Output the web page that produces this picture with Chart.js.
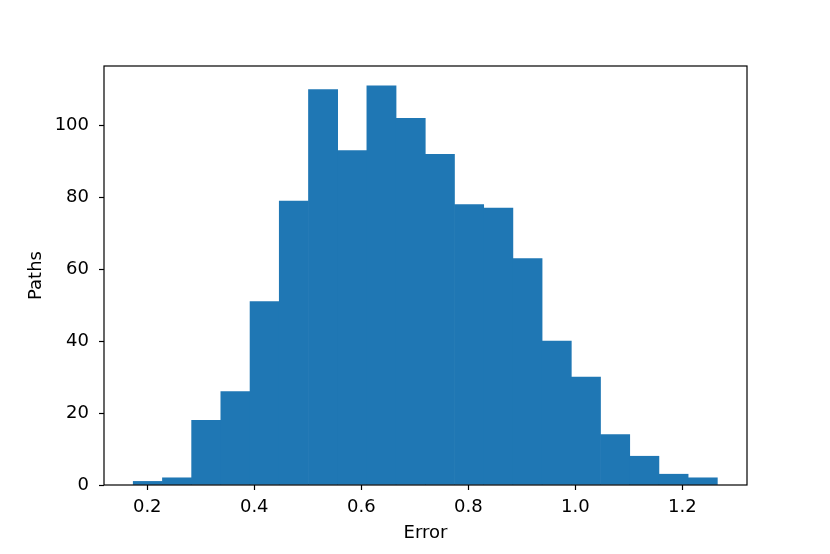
<!DOCTYPE html>
<html lang="en">
<head>
<meta charset="UTF-8">
<title>Error histogram</title>
<script src="https://cdn.jsdelivr.net/npm/chart.js"></script>
<style>
    body { margin: 0; background: #fff; }
    #wrap { width: 830px; height: 554px; }
</style>
</head>
<body>
<div id="wrap"><canvas id="chart" width="830" height="554"></canvas></div>
<script>
// histogram bins (20 bins, 1000 paths)
const binEdges = [0.1738, 0.2284, 0.2830, 0.3375, 0.3921, 0.4467, 0.5013, 0.5559, 0.6104, 0.6650,
                  0.7196, 0.7742, 0.8288, 0.8833, 0.9379, 0.9925, 1.0471, 1.1017, 1.1562, 1.2108, 1.2654];
const counts = [1, 2, 18, 26, 51, 79, 110, 93, 111, 102, 92, 78, 77, 63, 40, 30, 14, 8, 3, 2];
const xTicks = [0.2, 0.4, 0.6, 0.8, 1.0, 1.2];
const yTicks = [0, 20, 40, 60, 80, 100];

const barData = counts.map((c, i) => ({ x: (binEdges[i] + binEdges[i + 1]) / 2, y: c }));

const FONT = { family: 'DejaVu Sans', size: 18 };

// matplotlib-style box around the axes
const frame = {
    id: 'frame',
    afterDraw(chart) {
        const a = chart.chartArea, ctx = chart.ctx;
        ctx.save();
        ctx.strokeStyle = '#000';
        ctx.lineWidth = 1.2;
        ctx.strokeRect(a.left, a.top, a.right - a.left, a.bottom - a.top);
        ctx.restore();
    }
};

new Chart(document.getElementById('chart'), {
    type: 'bar',
    data: {
        datasets: [{
            data: barData,
            backgroundColor: '#1f77b4',
            borderWidth: 0,
            barPercentage: 1,
            categoryPercentage: 1
        }]
    },
    options: {
        responsive: false,
        animation: false,
        layout: { padding: { top: 66, right: 83, left: 0, bottom: 0 } },
        plugins: { legend: { display: false }, tooltip: { enabled: false } },
        scales: {
            x: {
                type: 'linear',
                offset: false,
                min: 0.1192,
                max: 1.3208,
                afterFit(s) { s.height = 69; },
                afterBuildTicks(s) { s.ticks = xTicks.map(v => ({ value: v })); },
                grid: { offset: false, drawOnChartArea: false, drawTicks: true, tickLength: 5, tickColor: '#000', tickWidth: 1.2 },
                border: { display: false },
                ticks: { color: '#000', font: FONT, padding: 7, maxRotation: 0, callback: v => v.toFixed(1) },
                title: { display: true, text: 'Error', color: '#000', font: FONT, padding: { top: 0, bottom: 10 } }
            },
            y: {
                min: 0,
                max: 116.55,
                afterFit(s) { s.width = 104; },
                afterBuildTicks(s) { s.ticks = yTicks.map(v => ({ value: v })); },
                grid: { drawOnChartArea: false, drawTicks: true, tickLength: 5, tickColor: '#000', tickWidth: 1.2 },
                border: { display: false },
                ticks: { color: '#000', font: FONT, padding: 10 },
                title: { display: true, text: 'Paths', color: '#000', font: FONT, padding: { top: 26, bottom: 0 } }
            }
        }
    },
    plugins: [frame]
});
</script>
</body>
</html>
